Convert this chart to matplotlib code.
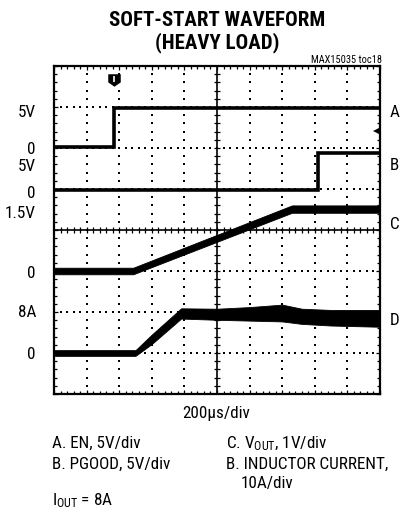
import numpy as np
import matplotlib
matplotlib.use("Agg")
import matplotlib.pyplot as plt
from matplotlib import font_manager as fm

# ---------------- data (x and y in scope divisions) ----------------
# Trace A: EN (5V/div), zero level at division 6
A_x = [0.0, 1.85, 1.85, 10.0]
A_y = [6.02, 6.02, 6.97, 6.97]
# Trace B: PGOOD (5V/div), zero level at division 5
B_x = [0.0, 8.1, 8.1, 10.0]
B_y = [4.98, 4.98, 5.88, 5.88]
# Trace C: VOUT (1V/div), zero level at division 3 (band: centre, half width)
C_x = [0.0, 2.43, 7.3, 10.0]
C_y = [3.0, 3.0, 4.51, 4.51]
C_half = [0.08, 0.08, 0.09, 0.09]
# Trace D: inductor current, zero level at division 1 (upper / lower envelope)
D_x = [0.0, 2.5, 3.0, 3.9, 5.0, 6.0, 7.0, 7.6, 8.5, 10.0]
D_hi = [1.07, 1.07, 1.45, 2.09, 2.08, 2.12, 2.18, 2.08, 2.05, 2.05]
D_lo = [0.93, 0.93, 1.22, 1.84, 1.81, 1.79, 1.77, 1.71, 1.67, 1.64]

left_labels = ["5V", "0", "5V", "0", "1.5V", "0", "8A", "0"]
left_label_y = [117, 154, 171, 198, 218, 278, 317, 359]   # baselines (px)
right_labels = ["A", "B", "C", "D"]
right_label_y = [117, 170, 229, 325]

# ---------------- fonts ----------------
entries = fm.fontManager.ttflist

def available(name, bold=False):
    for f in entries:
        if f.name == name:
            w = f.weight if isinstance(f.weight, int) else (700 if "bold" in str(f.weight) else 400)
            if not bold or w >= 600:
                return True
    return False

FONT = next((n for n in ["Roboto Condensed", "Archivo Narrow", "PT Sans Narrow",
                         "Encode Sans Condensed", "Liberation Sans"] if available(n)),
            "DejaVu Sans")
TFONT = next((n for n in ["Roboto Condensed", "Archivo Narrow", "PT Sans Narrow",
                          "Encode Sans Condensed", "Barlow Condensed", "Liberation Sans"]
              if available(n, bold=True)), "DejaVu Sans")
plt.rcParams["font.family"] = [FONT, "DejaVu Sans"]
plt.rcParams["mathtext.fontset"] = "custom"
plt.rcParams["mathtext.rm"] = FONT
plt.rcParams["mathtext.it"] = FONT + ":italic"
plt.rcParams["mathtext.bf"] = FONT + ":bold"

W, H = 400, 513
fig = plt.figure(figsize=(W / 100, H / 100), dpi=100)

def fx(px):
    return px / W

def fy(py):
    return 1 - py / H

# axes box: x 54..380 px, y 66..394 px
ax = fig.add_axes([fx(54), fy(394), (380 - 54) / W, (394 - 66) / H])
ax.set_xlim(0, 10)
ax.set_ylim(0, 8)
for s in ax.spines.values():
    s.set_linewidth(1.6)
ax.set_xticks(np.arange(0, 11, 1))
ax.set_yticks(np.arange(0, 9, 1))
ax.set_xticks(np.arange(0, 10.01, 0.2), minor=True)
ax.set_yticks(np.arange(0, 8.01, 0.2), minor=True)
ax.tick_params(which="both", direction="in", top=True, right=True,
               labelbottom=False, labelleft=False, width=0.9)
ax.tick_params(which="major", length=3)
ax.tick_params(which="minor", length=2.2)

# dotted graticule
fine_x = np.arange(0.2, 10.0, 0.2)
fine_y = np.arange(0.2, 8.0, 0.2)
for gy in [1, 2, 3, 5, 6, 7]:
    ax.plot(fine_x, np.full_like(fine_x, gy), ls="none", marker="s",
            ms=1.5, mew=0, color="black", zorder=1)
for gx in [1, 2, 3, 4, 6, 7, 8, 9]:
    ax.plot(np.full_like(fine_y, gx), fine_y, ls="none", marker="s",
            ms=1.5, mew=0, color="black", zorder=1)
# centre cross with ticks
ax.axhline(4, color="black", lw=1.2, zorder=1)
ax.axvline(5, color="black", lw=1.2, zorder=1)
ax.plot(fine_x, np.full_like(fine_x, 4), ls="none", marker="|", ms=5,
        mew=0.9, color="black", zorder=1)
ax.plot(np.full_like(fine_y, 5), fine_y, ls="none", marker="_", ms=5,
        mew=0.9, color="black", zorder=1)

# traces
ax.plot(A_x, A_y, color="black", lw=2.6, solid_joinstyle="miter", zorder=3)
ax.plot(B_x, B_y, color="black", lw=2.6, solid_joinstyle="miter", zorder=3)
C_y = np.array(C_y)
C_half = np.array(C_half)
ax.fill_between(C_x, C_y - C_half, C_y + C_half, color="black", lw=0.6,
                edgecolor="black", zorder=3)
ax.fill_between(D_x, D_lo, D_hi, color="black", lw=0.6, edgecolor="black",
                zorder=3)

# trigger marker and level arrow
trig = [(-1, 1), (1, 1), (1, -0.3), (0, -1), (-1, -0.3), (-1, 1)]
ax.plot([A_x[1]], [7.67], marker=trig, ms=9, color="black", mew=0, zorder=4,
        clip_on=False)
ax.plot([A_x[1]], [7.69], marker="|", ms=5, mew=1.2, color="white", zorder=5)
ax.plot([9.88], [6.42], marker="<", ms=5, color="black", mew=0, zorder=4)

# ---------------- text ----------------
fig.text(fx(217), fy(26), "SOFT-START WAVEFORM", ha="center", va="baseline",
         fontsize=15, fontweight="bold", family=[TFONT, "DejaVu Sans"])
fig.text(fx(217), fy(48), "(HEAVY LOAD)", ha="center", va="baseline",
         fontsize=15, fontweight="bold", family=[TFONT, "DejaVu Sans"])
fig.text(fx(382), fy(63), "MAX15035 toc18", ha="right", va="baseline",
         fontsize=7.5)

fs = 12.3
for lab, py in zip(left_labels, left_label_y):
    fig.text(fx(36), fy(py), lab, ha="right", va="baseline", fontsize=fs)
for lab, py in zip(right_labels, right_label_y):
    fig.text(fx(390), fy(py), lab, ha="left", va="baseline", fontsize=fs)

fig.text(fx(216), fy(418), "200\u00b5s/div", ha="center", va="baseline",
         fontsize=fs)
fig.text(fx(52), fy(448), "A. EN, 5V/div", ha="left", va="baseline", fontsize=fs)
fig.text(fx(52), fy(469), "B. PGOOD, 5V/div", ha="left", va="baseline",
         fontsize=fs)
fig.text(fx(226), fy(448), r"C. V$_{\mathrm{OUT}}$, 1V/div", ha="left",
         va="baseline", fontsize=fs)
fig.text(fx(226), fy(469), "B. INDUCTOR CURRENT,", ha="left", va="baseline",
         fontsize=fs)
fig.text(fx(241), fy(488), "10A/div", ha="left", va="baseline", fontsize=fs)
fig.text(fx(52), fy(505), r"I$_{\mathrm{OUT}}$ = 8A", ha="left",
         va="baseline", fontsize=fs)

fig.savefig("out.png", dpi=100)
